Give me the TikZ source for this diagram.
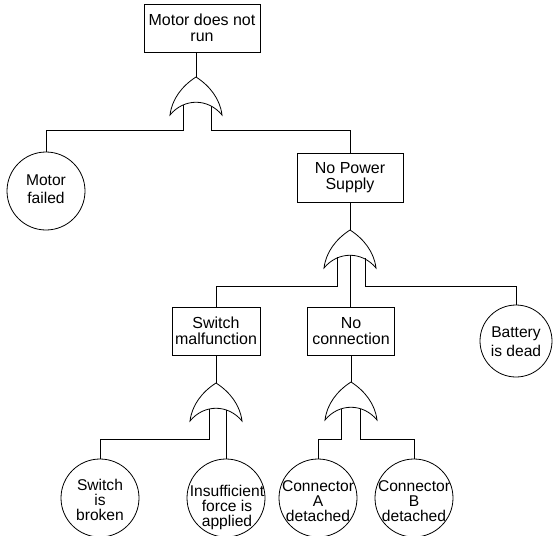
\documentclass[tikz,border=0pt]{standalone}
\usepackage{fontspec}
\setmainfont{Liberation Sans}
\begin{document}
\begin{tikzpicture}[x=1pt,y=-1pt,line width=0.8pt,
  gatebox/.style={draw, rectangle, align=center, inner sep=0pt,
    font=\fontsize{16}{16}\selectfont},
  event/.style={draw, circle, inner sep=0pt, minimum size=78pt},
  evtext/.style={align=center, inner sep=0pt,
    font=\fontsize{15.6}{#1}\selectfont},
  orgate/.pic={
    \draw (0,0) .. controls (-14,9) and (-24,22) .. (-26,38)
      .. controls (-12,21) and (12,21) .. (26,38)
      .. controls (24,22) and (14,9) .. cycle;
    \coordinate (-tip) at (0,0);
  }]
\useasboundingbox (0,0) rectangle (553,535);

% intermediate events
\node[gatebox, minimum width=116pt, minimum height=48pt] (top) at (202,28) {Motor does not\\run};
\node[gatebox, minimum width=106pt, minimum height=49pt] (nps) at (350,177.5) {No Power\\Supply};
\node[gatebox, minimum width=88pt, minimum height=48pt] (sw) at (216,331) {Switch\\malfunction};
\node[gatebox, minimum width=87pt, minimum height=48pt] (nc) at (351,331) {No\\connection};

% basic events
\node[event] (mf) at (46,191) {};
\node[evtext=18] (mft) at (46,189) {Motor\\failed};
\node[event, minimum size=72pt] (bat) at (516,341) {};
\node[evtext=19] (batt) at (516,341.5) {Battery\\is dead};
\node[event] (sb) at (100,498) {};
\node[evtext=15] (sbt) at (100,500) {Switch\\is\\broken};
\node[event] (ins) at (226,498) {};
\node[evtext=15] (inst) at (227,507) {Insufficient\\force is\\applied};
\node[event] (ca) at (318,498) {};
\node[evtext=15] (cat) at (318,501) {Connector\\A\\detached};
\node[event] (cb) at (414,498) {};
\node[evtext=15] (cbt) at (414,501) {Connector\\B\\detached};

% OR gates
\pic (g1) at (196,77) {orgate};
\pic (g2) at (350,230) {orgate};
\pic (g3) at (216,383) {orgate};
\pic (g4) at (351,382) {orgate};

% gate inputs
\coordinate (g1a) at (183,105);
\coordinate (g1b) at (211,106);
\coordinate (g2a) at (337,257);
\coordinate (g2c) at (350,255);
\coordinate (g2b) at (365,258);
\coordinate (g3a) at (209,409);
\coordinate (g3b) at (226,410);
\coordinate (g4a) at (341,409);
\coordinate (g4b) at (360,409);

% connectors
\draw (top.south -| g1-tip) -- (g1-tip);
\draw (g1a) -- ++(0,25) -| (mf.north);
\draw (g1b) -- ++(0,24) -| (nps.north);
\draw (nps.south -| g2-tip) -- (g2-tip);
\draw (g2a) -- ++(0,29) -| (sw.north);
\draw (g2c) -- (g2c |- nc.north);
\draw (g2b) -- ++(0,28) -| (bat.north);
\draw (sw.south -| g3-tip) -- (g3-tip);
\draw (g3a) -- ++(0,30) -| (sb.north);
\draw (g3b) -- (g3b |- ins.north);
\draw (nc.south -| g4-tip) -- (g4-tip);
\draw (g4a) -- ++(0,30) -| (ca.north);
\draw (g4b) -- ++(0,30) -| (cb.north);
\end{tikzpicture}
\end{document}
